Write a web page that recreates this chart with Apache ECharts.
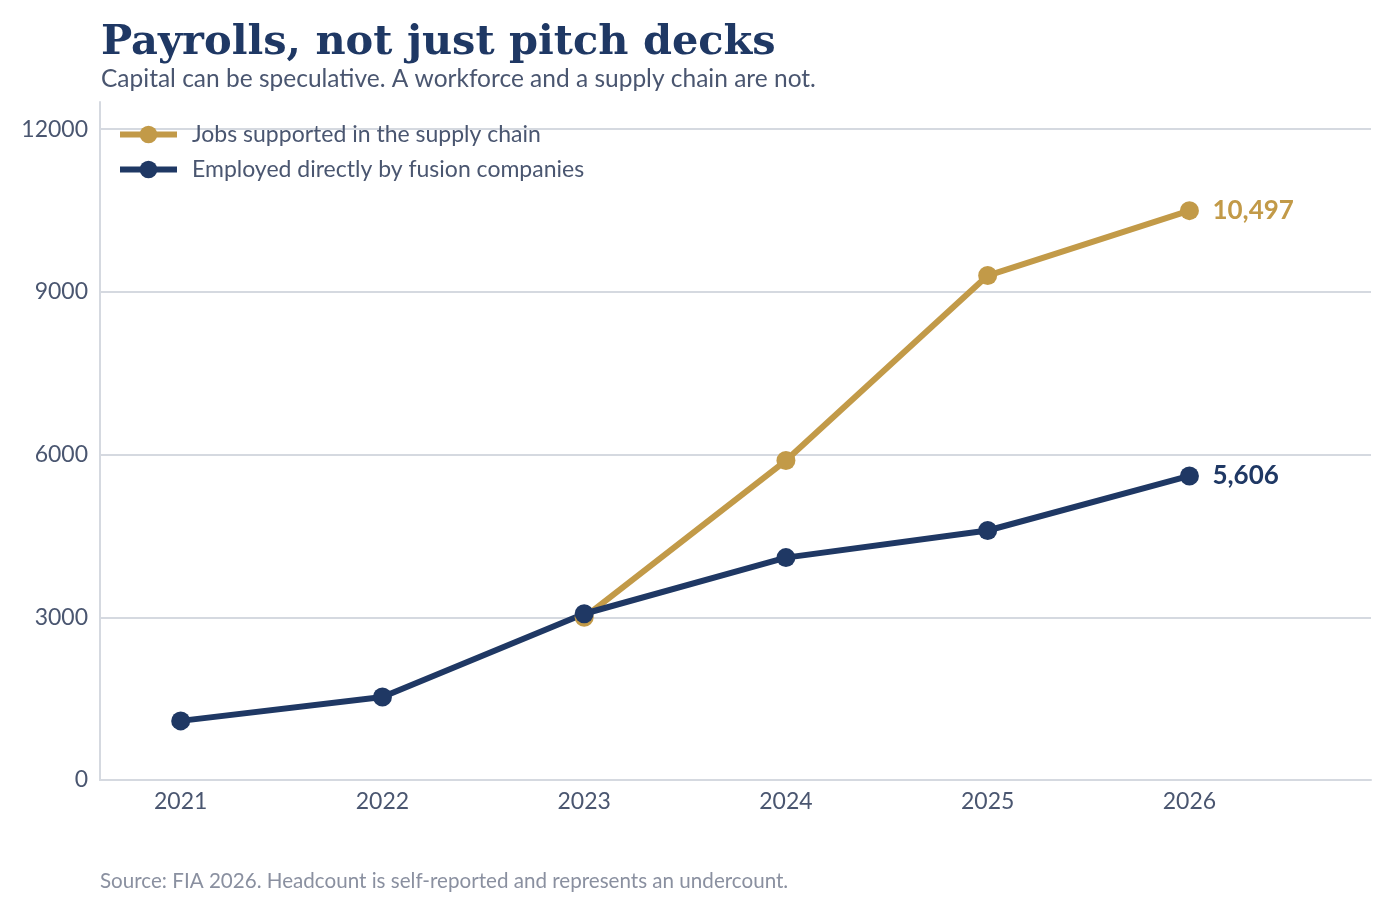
<!DOCTYPE html>
<html>
<head>
<meta charset="utf-8">
<script src="https://cdn.jsdelivr.net/npm/echarts@6/dist/echarts.min.js"></script>
<style>
    html, body { margin: 0; padding: 0; background: #fff; }
    #chart { width: 1391px; height: 913px; }
</style>
</head>
<body>
<div id="chart"></div>
<script>
var years = [2021, 2022, 2023, 2024, 2025, 2026];
var supplyChain = [null, null, 3000, 5890, 9300, 10497];
var employedDirect = [1090, 1530, 3065, 4100, 4600, 5606];
var seriesNames = ['Jobs supported in the supply chain', 'Employed directly by fusion companies'];
var yTicks = [0, 3000, 6000, 9000, 12000];

var gold = '#C29A48';
var navy = '#1F3864';
var font = 'Lato, "Noto Sans", sans-serif';

function pairs(vals) {
    var out = [];
    for (var i = 0; i < years.length; i++) {
        if (vals[i] != null) out.push([years[i], vals[i]]);
    }
    return out;
}

function lineSeries(name, vals, color) {
    return {
        name: name,
        type: 'line',
        data: pairs(vals),
        symbol: 'circle',
        symbolSize: 19,
        lineStyle: { color: color, width: 6 },
        itemStyle: { color: color },
        endLabel: {
            show: true,
            distance: 23,
            color: color,
            fontFamily: font,
            fontWeight: 'bold',
            fontSize: 26,
            formatter: function (p) { return p.value[1].toLocaleString('en-US'); }
        },
        animation: false
    };
}

var chart = echarts.init(document.getElementById('chart'));
chart.setOption({
    backgroundColor: '#fff',
    title: [{
        text: 'Payrolls, not just pitch decks',
        subtext: 'Capital can be speculative. A workforce and a supply chain are not.',
        left: 96,
        top: 17,
        itemGap: 3,
        textStyle: { fontFamily: '"DejaVu Serif", serif', fontWeight: 'bold', fontSize: 41.5, color: navy },
        subtextStyle: { fontFamily: font, fontSize: 24.5, color: '#4A5670' }
    }, {
        text: 'Source: FIA 2026. Headcount is self-reported and represents an undercount.',
        left: 95,
        top: 866,
        textStyle: { fontFamily: font, fontWeight: 'normal', fontSize: 20.6, color: '#8A90A0' }
    }],
    legend: {
        left: 112,
        top: 118,
        orient: 'vertical',
        itemWidth: 57,
        itemHeight: 22,
        itemGap: 12,
        data: seriesNames,
        lineStyle: { width: 6 },
        textStyle: { fontFamily: font, fontSize: 23, color: '#4A5670', padding: [0, 0, 0, 10] }
    },
    grid: { left: 100, right: 20, top: 102, bottom: 133 },
    xAxis: {
        type: 'value',
        min: 2020.6,
        max: 2026.9,
        minInterval: 1,
        maxInterval: 1,
        axisLine: { show: true, lineStyle: { color: '#D5D9E0', width: 2 } },
        axisTick: { show: false },
        splitLine: { show: false },
        axisLabel: {
            showMinLabel: false,
            showMaxLabel: false,
            margin: 10,
            fontFamily: font,
            fontSize: 23,
            color: '#4A5670',
            formatter: function (v) { return years.indexOf(v) >= 0 ? String(v) : ''; }
        }
    },
    yAxis: {
        type: 'value',
        min: 0,
        max: 12500,
        interval: 3000,
        axisLine: { show: true, lineStyle: { color: '#D5D9E0', width: 2 } },
        axisTick: { show: false },
        splitLine: { show: true, showMaxLine: false, lineStyle: { color: '#D5D9E0', width: 2 } },
        axisLabel: {
            showMaxLabel: false,
            margin: 12,
            fontFamily: font,
            fontSize: 23,
            color: '#4A5670',
            formatter: function (v) { return yTicks.indexOf(v) >= 0 ? String(v) : ''; }
        }
    },
    series: [
        lineSeries(seriesNames[0], supplyChain, gold),
        lineSeries(seriesNames[1], employedDirect, navy)
    ]
});
</script>
</body>
</html>
